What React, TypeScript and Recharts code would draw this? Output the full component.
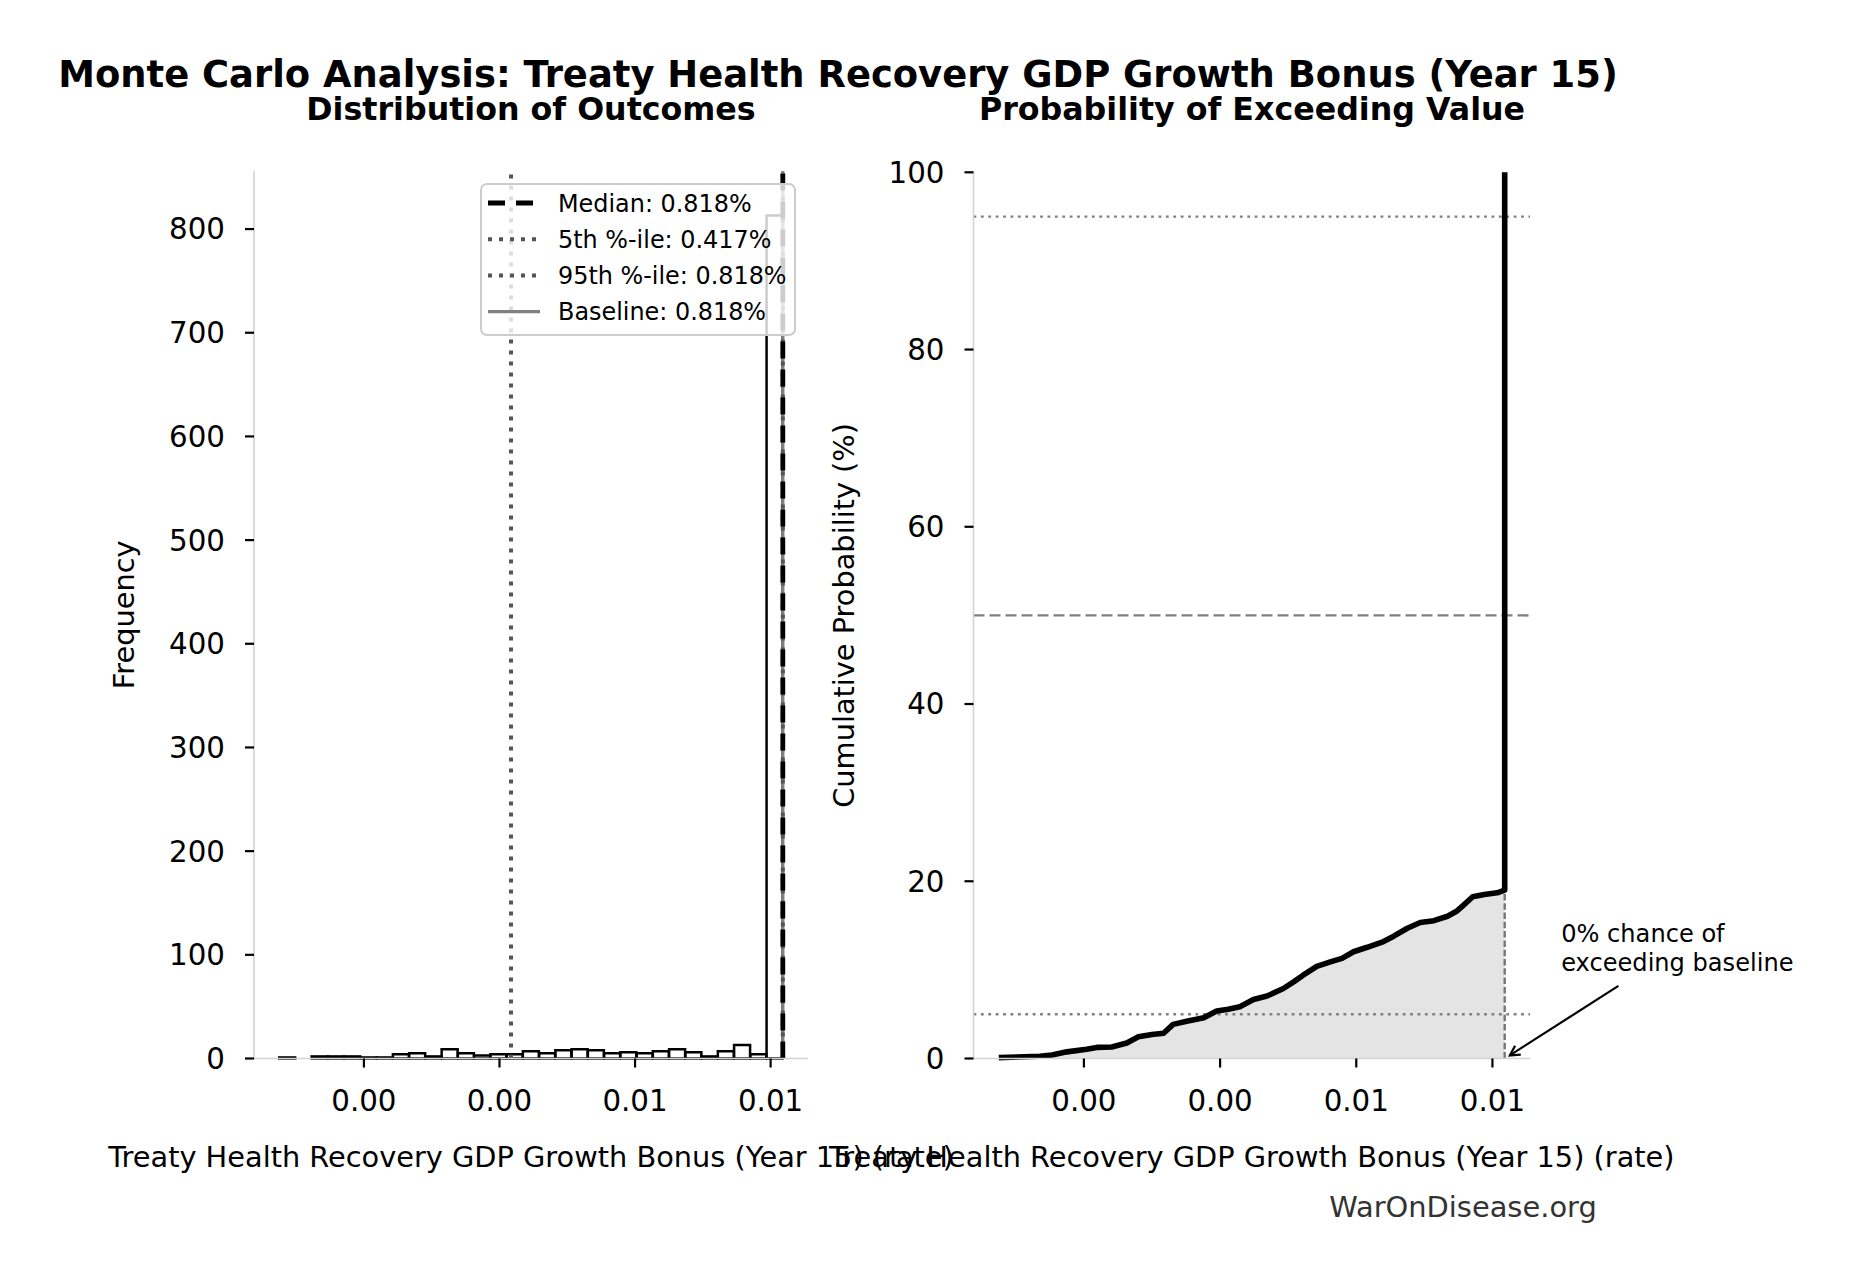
import React from "react";
import {
  ComposedChart,
  Bar,
  Line,
  Area,
  XAxis,
  YAxis,
  ReferenceLine,
  ReferenceDot,
  Legend,
} from "recharts";

const FONT = "'DejaVu Sans', sans-serif";
const W = 1850;
const H = 1280;

// samples span (rate) and the histogram counts, 31 equal bins
const SAMPLE_MIN = 0.00075;
const SAMPLE_MAX = 0.00818;
const HIST_COUNTS = [
  1, 0, 2, 2, 2, 1, 1, 4, 5, 2, 9, 5, 3, 4, 4, 7, 5, 8, 9, 8, 5, 6, 5, 7, 9, 6, 2, 7, 13, 4, 813,
];

const MEDIAN = 0.00818;
const P5 = 0.00417;
const P95 = 0.00818;
const BASELINE = 0.00818;

const X_TICKS = [0.002, 0.004, 0.006, 0.008];
const FREQ_TICKS = [0, 100, 200, 300, 400, 500, 600, 700, 800];
const FREQ_MAX = 856;
const PROB_TICKS = [0, 20, 40, 60, 80, 100];

// cumulative probability (%)
const CDF_X = [
  0.00075, 0.00135, 0.00153, 0.00175, 0.00204, 0.00219, 0.00241, 0.00263, 0.0028, 0.003,
  0.00317, 0.00331, 0.00351, 0.00376, 0.00395, 0.00412, 0.00429, 0.00449, 0.00469, 0.00493,
  0.00508, 0.00522, 0.00542, 0.00562, 0.00579, 0.00596, 0.00616, 0.0064, 0.00655, 0.00675,
  0.00694, 0.00714, 0.00734, 0.00748, 0.00756, 0.00771, 0.00788, 0.00807, 0.00818, 0.00818,
];
const CDF_Y = [
  0.1, 0.25, 0.4, 0.75, 1.05, 1.25, 1.3, 1.75, 2.45, 2.7,
  2.85, 3.85, 4.2, 4.6, 5.35, 5.55, 5.85, 6.65, 7.05, 7.9,
  8.65, 9.4, 10.4, 10.9, 11.3, 12.05, 12.55, 13.2, 13.8, 14.7,
  15.35, 15.55, 16.05, 16.65, 17.2, 18.25, 18.5, 18.7, 19.0, 100,
];
const CDF_AT_BASELINE = 19.0;

const PCT_GUIDES = [95, 50, 5];

const TITLE = "Monte Carlo Analysis: Treaty Health Recovery GDP Growth Bonus (Year 15)";
const X_LABEL = "Treaty Health Recovery GDP Growth Bonus (Year 15) (rate)";
const ANNOTATION_LINES = ["0% chance of", "exceeding baseline"];

const pct = (v: number) => `${(v * 100).toFixed(3)}%`;
const fmtTick = (v: number) => v.toFixed(2);

const binWidth = (SAMPLE_MAX - SAMPLE_MIN) / HIST_COUNTS.length;
const histData = HIST_COUNTS.map((count, i) => ({
  x: SAMPLE_MIN + binWidth * (i + 0.5),
  count,
}));
const pad = (SAMPLE_MAX - SAMPLE_MIN) * 0.05;
const X_DOMAIN = [SAMPLE_MIN - pad, SAMPLE_MAX + pad];

const cdfData = CDF_X.map((x, i) => ({
  x,
  cdf: CDF_Y[i],
  fill: CDF_Y[i] < 100 ? CDF_Y[i] : null,
}));

const legendItems = [
  { label: `Median: ${pct(MEDIAN)}`, stroke: "#000", width: 4.8, dash: "17 11" },
  { label: `5th %-ile: ${pct(P5)}`, stroke: "#555", width: 4, dash: "4 7" },
  { label: `95th %-ile: ${pct(P95)}`, stroke: "#555", width: 4, dash: "4 7" },
  { label: `Baseline: ${pct(BASELINE)}`, stroke: "#808080", width: 3.3, dash: undefined },
];

const tickStyle = { fill: "#000", fontSize: 29.3, fontFamily: FONT };
const tickLineStyle = { stroke: "#000", strokeWidth: 2.2 };
const spineStyle = { stroke: "#d3d3d3", strokeWidth: 1.6 };
const labelStyle = { fill: "#000", fontSize: 28.8, fontFamily: FONT, textAnchor: "middle" as const };

const LegendBox = () => (
  <svg width={316} height={153} style={{ display: "block" }}>
    <rect x={1} y={1} width={314} height={151} rx={6} fill="rgba(255,255,255,0.8)" stroke="#cccccc" strokeWidth={2} />
    {legendItems.map((it, i) => {
      const cy = 20 + i * 36.2;
      return (
        <g key={it.label}>
          <line x1={8} x2={60} y1={cy} y2={cy} stroke={it.stroke} strokeWidth={it.width} strokeDasharray={it.dash} />
          <text x={78} y={cy + 8.6} fontSize={23.9} fontFamily={FONT} fill="#000">
            {it.label}
          </text>
        </g>
      );
    })}
  </svg>
);

const Arrow = (p: any) => {
  const { x1, y1, x2, y2 } = p;
  const ang = Math.atan2(y2 - y1, x2 - x1);
  const len = 11;
  const spread = 0.5;
  const a = [x2 - len * Math.cos(ang - spread), y2 - len * Math.sin(ang - spread)];
  const b = [x2 - len * Math.cos(ang + spread), y2 - len * Math.sin(ang + spread)];
  return (
    <g>
      <line x1={x1} y1={y1} x2={x2} y2={y2} stroke="#000" strokeWidth={2.2} />
      <polyline points={`${a[0]},${a[1]} ${x2},${y2} ${b[0]},${b[1]}`} fill="none" stroke="#000" strokeWidth={2.2} />
    </g>
  );
};

const AnnotationText = (p: any) => (
  <text x={p.cx} y={p.cy} fontSize={24.1} fontFamily={FONT} fill="#000">
    {ANNOTATION_LINES.map((t, i) => (
      <tspan key={t} x={p.cx} dy={i === 0 ? 0 : 28.6}>
        {t}
      </tspan>
    ))}
  </text>
);

function HistogramPanel() {
  return (
    <ComposedChart
      width={W}
      height={H}
      data={histData}
      barCategoryGap={0}
      barGap={0}
      margin={{ top: 171, right: 1042, bottom: 161.5, left: 154 }}
    >
      <XAxis
        dataKey="x"
        type="number"
        domain={X_DOMAIN}
        ticks={X_TICKS}
        interval={0}
        tickFormatter={fmtTick}
        height={60}
        tickSize={9}
        tickMargin={23}
        tick={tickStyle}
        tickLine={tickLineStyle}
        axisLine={spineStyle}
        label={{ value: X_LABEL, position: "insideTop", offset: 88, style: labelStyle }}
      />
      <YAxis
        type="number"
        domain={[0, FREQ_MAX]}
        ticks={FREQ_TICKS}
        interval={0}
        width={100}
        tickSize={9}
        tickMargin={20}
        tick={tickStyle}
        tickLine={tickLineStyle}
        axisLine={spineStyle}
        label={{ value: "Frequency", angle: -90, position: "left", offset: 30, style: labelStyle }}
      />
      <Bar dataKey="count" fill="none" stroke="#000" strokeWidth={2.5} isAnimationActive={false} />
      <ReferenceLine x={BASELINE} stroke="#808080" strokeWidth={3.3} />
      <ReferenceLine x={P95} stroke="#555" strokeWidth={4} strokeDasharray="4 7" />
      <ReferenceLine x={P5} stroke="#555" strokeWidth={4} strokeDasharray="4 7" />
      <ReferenceLine x={MEDIAN} stroke="#000" strokeWidth={4.8} strokeDasharray="17 11" />
      <Legend
        layout="horizontal"
        verticalAlign="middle"
        align="center"
        wrapperStyle={{ left: 480, top: 183, width: 316, height: 153 }}
        content={() => <LegendBox />}
      />
    </ComposedChart>
  );
}

function ExceedancePanel() {
  return (
    <ComposedChart
      width={W}
      height={H}
      data={cdfData}
      margin={{ top: 172.3, right: 320, bottom: 161.5, left: 873.5 }}
    >
      <XAxis
        dataKey="x"
        type="number"
        domain={X_DOMAIN}
        ticks={X_TICKS}
        interval={0}
        tickFormatter={fmtTick}
        height={60}
        tickSize={9}
        tickMargin={23}
        tick={tickStyle}
        tickLine={tickLineStyle}
        axisLine={spineStyle}
        label={{ value: X_LABEL, position: "insideTop", offset: 88, style: labelStyle }}
      />
      <YAxis
        type="number"
        domain={[0, 100]}
        ticks={PROB_TICKS}
        interval={0}
        width={100}
        tickSize={9}
        tickMargin={20}
        tick={tickStyle}
        tickLine={tickLineStyle}
        axisLine={spineStyle}
        label={{ value: "Cumulative Probability (%)", angle: -90, position: "left", offset: 29.5, style: labelStyle }}
      />
      <Area
        dataKey="fill"
        type="linear"
        fill="#e4e4e4"
        fillOpacity={1}
        stroke="none"
        isAnimationActive={false}
      />
      {PCT_GUIDES.map((y) => (
        <ReferenceLine
          key={y}
          y={y}
          stroke="#808080"
          strokeWidth={2.4}
          strokeDasharray={y === 50 ? "11 5" : "2.8 4.6"}
        />
      ))}
      <ReferenceLine
        segment={[
          { x: BASELINE, y: 0 },
          { x: BASELINE, y: CDF_AT_BASELINE },
        ]}
        stroke="#777"
        strokeWidth={2.4}
        strokeDasharray="6.5 2.8"
      />
      <Line
        dataKey="cdf"
        type="linear"
        stroke="#000"
        strokeWidth={5.6}
        strokeLinejoin="round"
        dot={false}
        isAnimationActive={false}
      />
      <ReferenceLine
        segment={[
          { x: 0.00985, y: 8.2 },
          { x: 0.008255, y: 0.35 },
        ]}
        ifOverflow="visible"
        shape={Arrow}
      />
      <ReferenceDot x={0.00901} y={13.1} r={0} ifOverflow="visible" shape={AnnotationText} />
    </ComposedChart>
  );
}

export default function App() {
  return (
    <div style={{ position: "absolute", left: 0, top: 0, width: W, height: H, background: "#fff", fontFamily: FONT }}>
      <div style={{ position: "absolute", left: 0, top: 0 }}>
        <HistogramPanel />
      </div>
      <div style={{ position: "absolute", left: 0, top: 0 }}>
        <ExceedancePanel />
      </div>
      <svg width={W} height={H} style={{ position: "absolute", left: 0, top: 0, pointerEvents: "none" }}>
        <text x={838} y={86.5} textAnchor="middle" fontSize={36.9} fontWeight="bold" fontFamily={FONT} fill="#000">
          {TITLE}
        </text>
        <text x={531} y={120} textAnchor="middle" fontSize={31.7} fontWeight="bold" fontFamily={FONT} fill="#000">
          Distribution of Outcomes
        </text>
        <text x={1252} y={120} textAnchor="middle" fontSize={31.7} fontWeight="bold" fontFamily={FONT} fill="#000">
          Probability of Exceeding Value
        </text>
        <text x={1463} y={1217} textAnchor="middle" fontSize={28.9} fontFamily={FONT} fill="#333">
          WarOnDisease.org
        </text>
      </svg>
    </div>
  );
}
